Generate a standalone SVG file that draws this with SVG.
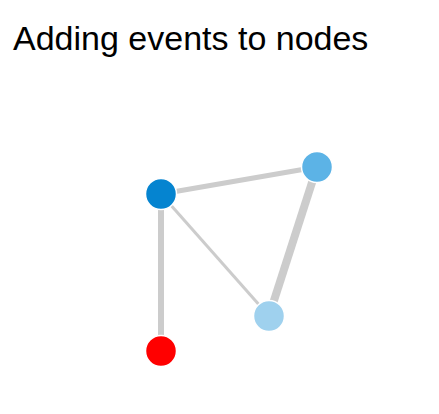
<svg xmlns="http://www.w3.org/2000/svg" width="439" height="414" viewBox="0 0 439 414">
<style>
.link{stroke:#cccccc;stroke-linecap:butt;fill:none}
.node{stroke:#ffffff;stroke-width:1.5}
.title{font-family:"Liberation Sans",Arial,sans-serif;font-size:34px;fill:#000}
</style>
<rect width="439" height="414" fill="#ffffff"/>
<text class="title" x="13" y="50">Adding events to nodes</text>
<g id="links">
<line class="link" x1="161" y1="194" x2="317" y2="167" stroke-width="5"/>
<line class="link" x1="317" y1="167" x2="269" y2="316" stroke-width="8"/>
<line class="link" x1="161" y1="194" x2="269" y2="316" stroke-width="3"/>
<line class="link" x1="161" y1="194" x2="161" y2="351" stroke-width="6"/>
</g>
<g id="node-a"><circle class="node" cx="161" cy="194" r="15.5" fill="#0584d0"/></g>
<g id="node-b"><circle class="node" cx="317" cy="167" r="15.5" fill="#5cb3e6"/></g>
<g id="node-c"><circle class="node" cx="269" cy="316" r="15.5" fill="#9fd1ee"/></g>
<g id="node-d"><circle class="node" cx="161" cy="351" r="15.5" fill="#ff0000"/></g>
</svg>
